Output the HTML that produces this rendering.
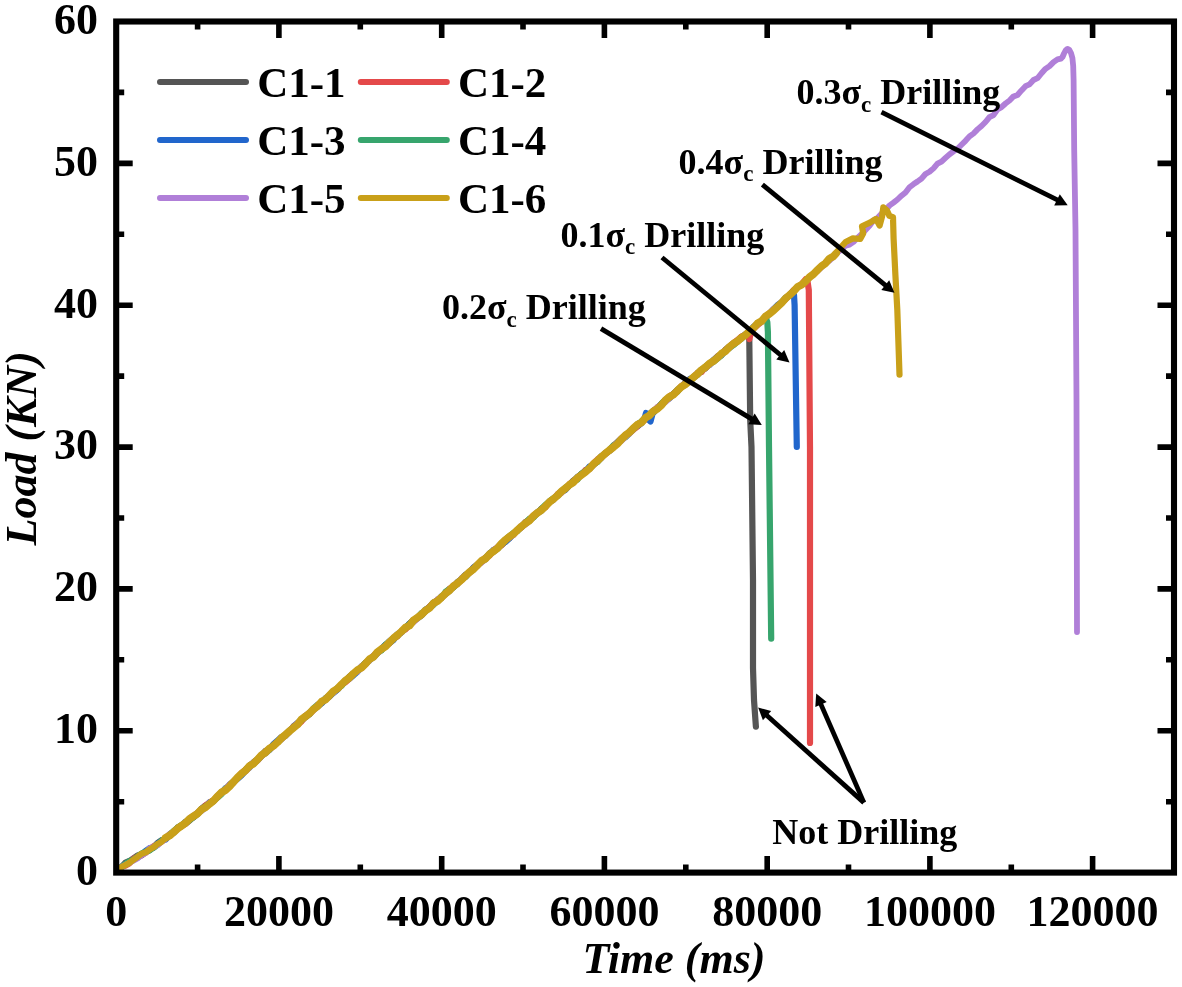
<!DOCTYPE html>
<html lang="en"><head><meta charset="utf-8"><title>Load-Time curves</title>
<style>html,body{margin:0;padding:0;background:#fff}svg{display:block;filter:blur(0.45px)}</style></head>
<body>
<svg width="1182" height="987" viewBox="0 0 1182 987">
<rect width="1182" height="987" fill="#fff"/>
<g fill="none" stroke-width="6.2" stroke-linejoin="round" stroke-linecap="round">
<path stroke="#555555" d="M117.5 870.5 L121.5 867.0 L125.5 862.6 L129.5 861.0 L133.5 858.3 L137.5 855.5 L141.5 854.6 L145.5 852.0 L149.5 849.8 L153.5 847.6 L157.5 843.1 L161.5 840.2 L165.5 839.2 L169.5 835.0 L173.5 832.7 L177.5 827.6 L181.5 825.6 L185.5 823.2 L189.5 818.7 L193.5 817.4 L197.5 814.1 L201.5 808.7 L205.5 805.5 L209.5 803.7 L213.5 801.4 L217.5 796.3 L221.5 792.3 L225.5 789.3 L229.5 784.7 L233.5 781.4 L237.5 778.0 L241.5 774.3 L245.5 769.7 L249.5 765.8 L253.5 762.2 L257.5 759.2 L261.5 755.2 L265.5 751.0 L269.5 749.5 L273.5 745.2 L277.5 741.9 L281.5 737.1 L285.5 735.7 L289.5 731.8 L293.5 726.3 L297.5 723.3 L301.5 720.7 L305.5 717.2 L309.5 714.2 L313.5 709.3 L317.5 706.9 L321.5 702.9 L325.5 698.4 L329.5 695.6 L333.5 692.8 L337.5 689.2 L341.5 684.8 L345.5 681.4 L349.5 676.4 L353.5 673.4 L357.5 671.3 L361.5 666.8 L365.5 662.6 L369.5 660.1 L373.5 656.9 L377.5 653.3 L381.5 649.0 L385.5 645.6 L389.5 642.2 L393.5 639.4 L397.5 635.2 L401.5 631.4 L405.5 628.2 L409.5 623.5 L413.5 620.0 L417.5 618.2 L421.5 615.4 L425.5 610.9 L429.5 606.9 L433.5 602.8 L437.5 600.2 L441.5 597.9 L445.5 593.9 L449.5 589.8 L453.5 587.1 L457.5 582.0 L461.5 579.2 L465.5 576.9 L469.5 572.4 L473.5 568.6 L477.5 564.6 L481.5 561.8 L485.5 559.4 L489.5 553.4 L493.5 551.9 L497.5 548.5 L501.5 545.2 L505.5 541.3 L509.5 538.1 L513.5 533.8 L517.5 530.5 L521.5 526.6 L525.5 522.2 L529.5 520.8 L533.5 516.6 L537.5 512.1 L541.5 509.5 L545.5 505.9 L549.5 502.1 L553.5 498.6 L557.5 495.6 L561.5 492.4 L565.5 488.9 L569.5 485.0 L573.5 480.4 L577.5 477.5 L581.5 473.8 L585.5 471.4 L589.5 468.6 L593.5 464.9 L597.5 461.4 L601.5 457.9 L605.5 453.0 L609.5 451.0 L613.5 447.0 L617.5 442.0 L621.5 438.3 L625.5 434.8 L629.5 433.2 L633.5 428.4 L637.5 424.5 L641.5 422.3 L645.5 418.1 L649.5 413.8 L653.5 410.6 L657.5 408.0 L661.5 403.6 L665.5 400.3 L669.5 397.9 L673.5 393.8 L677.5 389.9 L681.5 386.8 L685.5 382.4 L689.5 380.2 L693.5 377.0 L697.5 373.2 L701.5 369.7 L705.5 368.5 L709.5 364.2 L713.5 360.1 L717.5 357.8 L721.5 355.1 L725.5 349.7 L729.5 346.4 L733.5 343.4 L737.5 341.6 L741.5 336.8 L745.5 334.9 L748.5 331.9 L749.3 340.0 L750.2 420.0 L751.5 447.0 L753.0 580.0 L753.0 668.0 L754.0 700.0 L755.9 726.6"/>
<path stroke="#e4494a" d="M117.5 870.5 L121.5 867.0 L125.5 865.6 L129.5 863.3 L133.5 858.7 L137.5 856.3 L141.5 855.6 L145.5 852.7 L149.5 849.9 L153.5 846.3 L157.5 844.4 L161.5 841.7 L165.5 838.5 L169.5 834.3 L173.5 831.8 L177.5 828.6 L181.5 826.3 L185.5 823.9 L189.5 820.6 L193.5 816.4 L197.5 812.9 L201.5 809.3 L205.5 805.5 L209.5 802.4 L213.5 800.1 L217.5 796.2 L221.5 792.8 L225.5 790.5 L229.5 786.0 L233.5 782.2 L237.5 777.5 L241.5 773.0 L245.5 769.9 L249.5 765.5 L253.5 762.9 L257.5 760.6 L261.5 756.2 L265.5 751.4 L269.5 749.7 L273.5 745.9 L277.5 742.1 L281.5 739.0 L285.5 735.1 L289.5 731.6 L293.5 726.9 L297.5 725.0 L301.5 721.4 L305.5 715.7 L309.5 713.7 L313.5 710.1 L317.5 705.9 L321.5 702.5 L325.5 698.9 L329.5 696.5 L333.5 691.8 L337.5 689.1 L341.5 684.4 L345.5 682.2 L349.5 678.7 L353.5 674.0 L357.5 670.7 L361.5 668.1 L365.5 664.1 L369.5 659.9 L373.5 655.7 L377.5 652.4 L381.5 649.8 L385.5 644.9 L389.5 643.3 L393.5 638.1 L397.5 636.3 L401.5 631.2 L405.5 629.4 L409.5 625.2 L413.5 621.2 L417.5 617.7 L421.5 614.6 L425.5 610.9 L429.5 606.7 L433.5 602.9 L437.5 600.2 L441.5 597.8 L445.5 593.5 L449.5 588.6 L453.5 587.0 L457.5 583.3 L461.5 580.2 L465.5 574.9 L469.5 572.8 L473.5 567.5 L477.5 565.6 L481.5 561.1 L485.5 557.5 L489.5 555.7 L493.5 550.2 L497.5 547.7 L501.5 545.1 L505.5 540.1 L509.5 536.5 L513.5 534.8 L517.5 530.1 L521.5 527.4 L525.5 522.1 L529.5 519.5 L533.5 515.5 L537.5 513.4 L541.5 508.4 L545.5 507.2 L549.5 501.3 L553.5 499.6 L557.5 494.3 L561.5 491.4 L565.5 489.4 L569.5 484.2 L573.5 480.8 L577.5 478.7 L581.5 474.4 L585.5 470.0 L589.5 468.9 L593.5 463.2 L597.5 459.4 L601.5 456.7 L605.5 453.9 L609.5 450.7 L613.5 445.6 L617.5 442.6 L621.5 438.3 L625.5 435.9 L629.5 433.2 L633.5 429.6 L637.5 426.5 L641.5 422.7 L645.5 419.4 L649.5 415.5 L653.5 411.4 L657.5 407.2 L661.5 404.8 L665.5 400.4 L669.5 396.4 L673.5 393.8 L677.5 391.3 L681.5 385.9 L685.5 383.9 L689.5 380.2 L693.5 377.3 L697.5 373.1 L701.5 372.0 L705.5 366.8 L709.5 364.4 L713.5 360.6 L717.5 356.3 L721.5 354.4 L725.5 350.0 L729.5 346.5 L733.5 343.1 L737.5 340.1 L741.5 336.6 L745.5 334.7 L747.5 333.5 L749.4 339.0 L751.3 331.0 L753.5 328.8 L757.5 325.2 L761.5 321.9 L765.5 316.5 L769.5 313.4 L773.5 309.2 L777.5 306.3 L781.5 302.6 L785.5 299.3 L789.5 295.3 L793.5 290.3 L797.5 287.3 L801.5 284.2 L805.5 279.4 L806.0 280.3 L807.6 282.0 L808.8 290.0 L810.0 447.0 L810.0 743.0"/>
<path stroke="#2166cc" d="M117.5 870.5 L121.5 867.0 L125.5 863.8 L129.5 862.2 L133.5 859.5 L137.5 857.6 L141.5 855.0 L145.5 851.0 L149.5 848.2 L153.5 847.7 L157.5 843.5 L161.5 840.8 L165.5 839.6 L169.5 835.1 L173.5 832.9 L177.5 828.8 L181.5 826.1 L185.5 821.7 L189.5 819.8 L193.5 817.2 L197.5 813.1 L201.5 810.5 L205.5 807.2 L209.5 802.4 L213.5 800.9 L217.5 796.9 L221.5 792.6 L225.5 788.3 L229.5 786.9 L233.5 782.0 L237.5 778.8 L241.5 775.3 L245.5 770.9 L249.5 767.6 L253.5 762.6 L257.5 760.1 L261.5 755.6 L265.5 753.3 L269.5 749.6 L273.5 744.0 L277.5 740.6 L281.5 737.2 L285.5 735.6 L289.5 730.7 L293.5 727.6 L297.5 723.2 L301.5 720.2 L305.5 716.3 L309.5 712.7 L313.5 709.8 L317.5 706.2 L321.5 703.5 L325.5 699.4 L329.5 696.5 L333.5 692.8 L337.5 689.6 L341.5 685.2 L345.5 680.3 L349.5 678.6 L353.5 675.3 L357.5 671.6 L361.5 667.2 L365.5 664.0 L369.5 659.2 L373.5 657.3 L377.5 653.0 L381.5 648.7 L385.5 644.6 L389.5 643.1 L393.5 640.0 L397.5 634.1 L401.5 632.5 L405.5 628.0 L409.5 623.8 L413.5 620.7 L417.5 618.4 L421.5 615.2 L425.5 609.5 L429.5 607.5 L433.5 602.5 L437.5 600.8 L441.5 596.2 L445.5 594.2 L449.5 590.9 L453.5 586.2 L457.5 584.0 L461.5 578.7 L465.5 574.6 L469.5 572.4 L473.5 567.5 L477.5 564.4 L481.5 561.4 L485.5 558.5 L489.5 553.8 L493.5 550.0 L497.5 548.6 L501.5 543.7 L505.5 541.9 L509.5 538.3 L513.5 533.5 L517.5 530.2 L521.5 526.9 L525.5 523.7 L529.5 520.1 L533.5 516.6 L537.5 513.2 L541.5 510.6 L545.5 506.0 L549.5 502.3 L553.5 499.6 L557.5 494.9 L561.5 491.6 L565.5 489.8 L569.5 485.2 L573.5 481.8 L577.5 476.9 L581.5 474.5 L585.5 471.4 L589.5 466.4 L593.5 464.4 L597.5 461.0 L601.5 456.0 L605.5 453.9 L609.5 450.0 L613.5 447.0 L617.5 442.7 L621.5 440.1 L625.5 436.7 L629.5 431.3 L633.5 427.9 L637.5 426.0 L641.5 423.2 L644.5 418.5 L646.0 413.0 L648.0 419.0 L650.5 421.5 L652.5 414.0 L655.0 411.0 L657.5 407.5 L661.5 404.1 L665.5 400.4 L669.5 397.1 L673.5 394.1 L677.5 389.9 L681.5 386.6 L685.5 384.4 L689.5 379.2 L693.5 377.4 L697.5 374.6 L701.5 370.3 L705.5 366.7 L709.5 364.9 L713.5 360.2 L717.5 356.7 L721.5 354.1 L725.5 351.4 L729.5 346.6 L733.5 343.8 L737.5 340.6 L741.5 338.6 L745.5 334.2 L749.5 332.0 L753.5 326.7 L757.5 323.7 L761.5 321.0 L765.5 318.2 L769.5 313.5 L773.5 309.1 L777.5 305.1 L781.5 302.4 L785.5 297.7 L789.5 295.5 L792.5 291.9 L794.0 295.0 L794.6 305.0 L796.8 447.0"/>
<path stroke="#37a56d" d="M117.5 870.5 L121.5 867.0 L125.5 863.8 L129.5 861.1 L133.5 859.6 L137.5 856.5 L141.5 853.6 L145.5 851.8 L149.5 850.5 L153.5 847.6 L157.5 844.9 L161.5 840.7 L165.5 838.4 L169.5 834.6 L173.5 831.2 L177.5 827.8 L181.5 825.0 L185.5 823.7 L189.5 820.3 L193.5 817.0 L197.5 813.9 L201.5 809.1 L205.5 806.3 L209.5 803.9 L213.5 800.8 L217.5 797.6 L221.5 794.1 L225.5 788.4 L229.5 786.2 L233.5 782.5 L237.5 778.2 L241.5 773.4 L245.5 770.3 L249.5 765.4 L253.5 764.0 L257.5 760.3 L261.5 755.9 L265.5 751.7 L269.5 749.7 L273.5 745.3 L277.5 742.5 L281.5 738.9 L285.5 734.4 L289.5 730.6 L293.5 727.5 L297.5 723.5 L301.5 719.3 L305.5 716.1 L309.5 713.9 L313.5 708.4 L317.5 704.8 L321.5 702.8 L325.5 698.3 L329.5 695.5 L333.5 691.7 L337.5 687.9 L341.5 686.0 L345.5 680.4 L349.5 677.4 L353.5 673.3 L357.5 670.9 L361.5 666.4 L365.5 663.1 L369.5 660.6 L373.5 655.9 L377.5 653.0 L381.5 650.4 L385.5 644.7 L389.5 641.1 L393.5 638.0 L397.5 635.9 L401.5 632.0 L405.5 627.5 L409.5 624.2 L413.5 620.3 L417.5 617.6 L421.5 613.0 L425.5 611.2 L429.5 608.2 L433.5 604.9 L437.5 600.8 L441.5 597.9 L445.5 591.9 L449.5 589.1 L453.5 587.4 L457.5 583.4 L461.5 579.0 L465.5 576.8 L469.5 572.5 L473.5 569.5 L477.5 564.7 L481.5 560.9 L485.5 558.0 L489.5 553.7 L493.5 550.9 L497.5 548.9 L501.5 543.8 L505.5 539.4 L509.5 536.1 L513.5 532.9 L517.5 531.0 L521.5 526.5 L525.5 522.8 L529.5 518.8 L533.5 517.6 L537.5 512.7 L541.5 508.7 L545.5 504.8 L549.5 501.3 L553.5 498.2 L557.5 496.0 L561.5 491.2 L565.5 487.4 L569.5 485.1 L573.5 481.0 L577.5 479.5 L581.5 473.7 L585.5 471.2 L589.5 468.4 L593.5 463.9 L597.5 461.9 L601.5 457.1 L605.5 452.9 L609.5 449.9 L613.5 445.4 L617.5 442.9 L621.5 438.9 L625.5 437.1 L629.5 433.4 L633.5 429.0 L637.5 424.3 L641.5 421.4 L645.5 417.8 L649.5 414.2 L653.5 410.8 L657.5 408.9 L661.5 403.5 L665.5 399.7 L669.5 398.5 L673.5 394.1 L677.5 391.6 L681.5 386.6 L685.5 384.7 L689.5 380.9 L693.5 378.0 L697.5 374.6 L701.5 370.7 L705.5 366.4 L709.5 363.4 L713.5 361.8 L717.5 358.6 L721.5 355.3 L725.5 350.5 L729.5 348.0 L733.5 345.1 L737.5 341.4 L741.5 338.5 L745.5 334.5 L749.5 331.5 L753.5 328.1 L757.5 323.5 L761.5 321.7 L765.5 317.2 L767.3 322.0 L767.9 332.0 L769.0 447.0 L771.2 638.7"/>
<path stroke="#b07fd8" stroke-width="5.8" d="M117.5 870.5 L121.5 867.0 L125.5 864.8 L129.5 862.7 L133.5 860.6 L137.5 858.5 L141.5 855.3 L145.5 853.2 L149.5 848.2 L153.5 846.7 L157.5 845.3 L161.5 841.8 L165.5 839.3 L169.5 834.2 L173.5 831.9 L177.5 828.2 L181.5 825.8 L185.5 822.8 L189.5 818.1 L193.5 815.5 L197.5 812.5 L201.5 811.0 L205.5 807.4 L209.5 802.7 L213.5 801.0 L217.5 795.7 L221.5 793.4 L225.5 788.5 L229.5 784.7 L233.5 783.1 L237.5 777.4 L241.5 773.5 L245.5 771.6 L249.5 767.5 L253.5 762.3 L257.5 760.5 L261.5 755.9 L265.5 752.7 L269.5 747.9 L273.5 746.2 L277.5 742.0 L281.5 739.2 L285.5 735.4 L289.5 730.3 L293.5 726.9 L297.5 722.9 L301.5 719.3 L305.5 715.5 L309.5 712.6 L313.5 709.8 L317.5 704.7 L321.5 702.9 L325.5 698.5 L329.5 694.9 L333.5 692.7 L337.5 688.2 L341.5 684.3 L345.5 681.1 L349.5 678.2 L353.5 673.0 L357.5 671.8 L361.5 665.8 L365.5 664.1 L369.5 660.8 L373.5 655.1 L377.5 653.6 L381.5 649.0 L385.5 646.0 L389.5 640.9 L393.5 637.5 L397.5 634.4 L401.5 632.9 L405.5 627.4 L409.5 625.4 L413.5 622.3 L417.5 618.8 L421.5 613.8 L425.5 610.3 L429.5 607.3 L433.5 604.4 L437.5 599.2 L441.5 597.3 L445.5 594.0 L449.5 590.6 L453.5 585.0 L457.5 583.8 L461.5 578.1 L465.5 575.3 L469.5 572.5 L473.5 569.8 L477.5 564.8 L481.5 562.8 L485.5 558.3 L489.5 554.2 L493.5 550.7 L497.5 546.8 L501.5 543.1 L505.5 539.8 L509.5 537.7 L513.5 535.1 L517.5 529.4 L521.5 525.6 L525.5 524.6 L529.5 520.0 L533.5 516.2 L537.5 512.2 L541.5 509.7 L545.5 506.8 L549.5 502.4 L553.5 498.8 L557.5 494.4 L561.5 493.2 L565.5 487.4 L569.5 485.1 L573.5 482.5 L577.5 477.2 L581.5 475.3 L585.5 472.3 L589.5 468.0 L593.5 464.9 L597.5 459.6 L601.5 456.9 L605.5 452.7 L609.5 451.0 L613.5 446.0 L617.5 442.9 L621.5 440.9 L625.5 437.0 L629.5 433.8 L633.5 428.9 L637.5 425.5 L641.5 422.6 L645.5 418.4 L649.5 414.4 L653.5 411.2 L657.5 407.0 L661.5 404.1 L665.5 402.2 L669.5 398.6 L673.5 394.2 L677.5 390.4 L681.5 386.5 L685.5 382.6 L689.5 379.9 L693.5 378.0 L697.5 375.0 L701.5 370.4 L705.5 368.2 L709.5 364.9 L713.5 361.3 L717.5 358.0 L721.5 354.9 L725.5 350.6 L729.5 348.1 L733.5 343.7 L737.5 341.0 L741.5 338.4 L745.5 334.9 L749.5 330.5 L753.5 328.8 L757.5 324.5 L761.5 320.9 L765.5 315.9 L769.5 313.7 L773.5 309.2 L777.5 306.5 L781.5 302.2 L785.5 299.3 L789.5 295.1 L793.5 291.7 L797.5 287.1 L801.5 284.5 L805.5 281.3 L809.5 278.1 L813.5 273.3 L817.5 271.0 L821.5 267.4 L825.5 263.4 L829.5 260.6 L833.5 256.9 L837.5 252.5 L841.5 249.6 L845.5 245.7 L849.5 244.6 L853.5 241.9 L857.5 237.8 L861.5 234.2 L865.5 230.0 L869.5 225.8 L873.5 220.2 L877.5 218.0 L881.5 213.6 L885.5 210.0 L889.5 205.5 L893.5 202.6 L897.5 199.5 L901.5 195.7 L905.5 192.5 L909.5 187.3 L913.5 184.2 L917.5 181.5 L921.5 178.6 L925.5 174.0 L929.5 171.8 L933.5 168.4 L937.5 163.7 L941.5 161.7 L945.5 157.9 L949.5 154.3 L953.5 151.4 L957.5 148.7 L961.5 144.7 L965.5 140.8 L969.5 136.4 L973.5 133.5 L977.5 129.4 L981.5 126.0 L985.5 122.0 L989.5 117.1 L993.5 115.1 L997.5 109.4 L1001.5 107.2 L1005.5 103.5 L1009.5 100.5 L1013.5 96.4 L1017.5 95.0 L1021.5 90.4 L1025.5 86.2 L1029.5 84.4 L1033.5 80.0 L1037.5 78.2 L1041.5 73.2 L1045.5 68.8 L1049.5 66.1 L1053.5 62.1 L1057.5 59.4 L1060.9 58.6 L1062.5 57.0 L1064.0 53.5 L1065.7 50.3 L1067.5 48.9 L1069.3 49.8 L1071.0 53.0 L1072.4 58.0 L1073.2 66.0 L1073.6 80.0 L1074.2 150.0 L1075.5 230.0 L1076.5 400.0 L1077.0 632.0"/>
<path stroke="#c9a019" d="M117.5 870.5 L121.5 867.0 L125.5 865.0 L129.5 862.7 L133.5 859.8 L137.5 856.9 L141.5 853.8 L145.5 852.4 L149.5 849.4 L153.5 847.3 L157.5 843.9 L161.5 841.9 L165.5 837.9 L169.5 835.7 L173.5 832.4 L177.5 828.7 L181.5 825.8 L185.5 822.9 L189.5 818.9 L193.5 816.3 L197.5 813.6 L201.5 809.5 L205.5 807.3 L209.5 803.9 L213.5 800.8 L217.5 796.4 L221.5 792.3 L225.5 790.1 L229.5 786.5 L233.5 782.0 L237.5 777.5 L241.5 773.7 L245.5 770.6 L249.5 766.1 L253.5 763.7 L257.5 759.5 L261.5 755.2 L265.5 752.5 L269.5 748.4 L273.5 745.9 L277.5 742.3 L281.5 738.0 L285.5 734.7 L289.5 731.2 L293.5 727.8 L297.5 724.6 L301.5 719.3 L305.5 716.4 L309.5 713.3 L313.5 709.2 L317.5 706.2 L321.5 701.7 L325.5 699.6 L329.5 695.4 L333.5 691.1 L337.5 688.6 L341.5 684.4 L345.5 680.6 L349.5 677.6 L353.5 673.5 L357.5 670.0 L361.5 667.7 L365.5 663.8 L369.5 659.1 L373.5 656.9 L377.5 652.0 L381.5 649.0 L385.5 646.5 L389.5 642.4 L393.5 638.3 L397.5 635.0 L401.5 631.5 L405.5 627.5 L409.5 625.6 L413.5 620.4 L417.5 617.5 L421.5 614.6 L425.5 610.5 L429.5 608.1 L433.5 603.2 L437.5 601.1 L441.5 597.4 L445.5 593.5 L449.5 590.4 L453.5 586.1 L457.5 583.3 L461.5 579.7 L465.5 575.7 L469.5 572.1 L473.5 569.1 L477.5 565.0 L481.5 560.9 L485.5 558.6 L489.5 554.3 L493.5 551.2 L497.5 548.2 L501.5 543.6 L505.5 539.9 L509.5 536.6 L513.5 533.9 L517.5 530.0 L521.5 526.4 L525.5 523.3 L529.5 520.6 L533.5 516.0 L537.5 512.8 L541.5 510.1 L545.5 506.2 L549.5 502.1 L553.5 499.0 L557.5 495.5 L561.5 491.4 L565.5 488.4 L569.5 484.8 L573.5 482.2 L577.5 477.9 L581.5 475.0 L585.5 472.0 L589.5 468.4 L593.5 463.9 L597.5 460.8 L601.5 456.8 L605.5 453.4 L609.5 450.1 L613.5 447.1 L617.5 443.9 L621.5 439.2 L625.5 435.2 L629.5 432.4 L633.5 428.2 L637.5 424.7 L641.5 422.5 L645.5 417.8 L649.5 415.4 L653.5 411.2 L657.5 408.7 L661.5 405.1 L665.5 400.1 L669.5 396.8 L673.5 394.7 L677.5 390.6 L681.5 386.8 L685.5 384.2 L689.5 381.0 L693.5 377.2 L697.5 374.0 L701.5 370.0 L705.5 367.2 L709.5 363.5 L713.5 361.1 L717.5 357.7 L721.5 353.6 L725.5 351.2 L729.5 346.9 L733.5 343.6 L737.5 341.3 L741.5 337.6 L745.5 335.1 L749.5 331.3 L753.5 328.0 L757.5 323.4 L761.5 321.2 L765.5 316.4 L769.5 313.8 L773.5 310.6 L777.5 306.8 L781.5 303.0 L785.5 298.4 L789.5 295.1 L793.5 291.5 L797.5 286.9 L801.5 284.9 L805.5 281.4 L809.5 277.1 L813.5 274.1 L817.5 270.0 L821.5 266.1 L825.5 263.3 L829.5 258.5 L833.5 256.3 L836.0 253.5 L837.1 251.5 L845.6 242.0 L852.9 238.4 L860.2 239.0 L863.2 233.5 L862.0 226.2 L869.9 222.6 L876.0 218.9 L879.6 225.6 L882.1 216.5 L883.3 207.4 L886.9 210.4 L889.4 215.9 L893.0 217.1 L893.6 238.6 L895.4 275.1 L897.3 309.7 L899.5 374.6"/>
<path stroke="#c9a019" stroke-width="7.6" d="M165.5 837.9 L169.5 835.7 L173.5 832.4 L177.5 828.7 L181.5 825.8 L185.5 822.9 L189.5 818.9 L193.5 816.3 L197.5 813.6 L201.5 809.5 L205.5 807.3 L209.5 803.9 L213.5 800.8 L217.5 796.4 L221.5 792.3 L225.5 790.1 L229.5 786.5 L233.5 782.0 L237.5 777.5 L241.5 773.7 L245.5 770.6 L249.5 766.1 L253.5 763.7 L257.5 759.5 L261.5 755.2 L265.5 752.5 L269.5 748.4 L273.5 745.9 L277.5 742.3 L281.5 738.0 L285.5 734.7 L289.5 731.2 L293.5 727.8 L297.5 724.6 L301.5 719.3 L305.5 716.4 L309.5 713.3 L313.5 709.2 L317.5 706.2 L321.5 701.7 L325.5 699.6 L329.5 695.4 L333.5 691.1 L337.5 688.6 L341.5 684.4 L345.5 680.6 L349.5 677.6 L353.5 673.5 L357.5 670.0 L361.5 667.7 L365.5 663.8 L369.5 659.1 L373.5 656.9 L377.5 652.0 L381.5 649.0 L385.5 646.5 L389.5 642.4 L393.5 638.3 L397.5 635.0 L401.5 631.5 L405.5 627.5 L409.5 625.6 L413.5 620.4 L417.5 617.5 L421.5 614.6 L425.5 610.5 L429.5 608.1 L433.5 603.2 L437.5 601.1 L441.5 597.4 L445.5 593.5 L449.5 590.4 L453.5 586.1 L457.5 583.3 L461.5 579.7 L465.5 575.7 L469.5 572.1 L473.5 569.1 L477.5 565.0 L481.5 560.9 L485.5 558.6 L489.5 554.3 L493.5 551.2 L497.5 548.2 L501.5 543.6 L505.5 539.9 L509.5 536.6 L513.5 533.9 L517.5 530.0 L521.5 526.4 L525.5 523.3 L529.5 520.6 L533.5 516.0 L537.5 512.8 L541.5 510.1 L545.5 506.2 L549.5 502.1 L553.5 499.0 L557.5 495.5 L561.5 491.4 L565.5 488.4 L569.5 484.8 L573.5 482.2 L577.5 477.9 L581.5 475.0 L585.5 472.0 L589.5 468.4 L593.5 463.9 L597.5 460.8 L601.5 456.8 L605.5 453.4 L609.5 450.1 L613.5 447.1 L617.5 443.9 L621.5 439.2 L625.5 435.2 L629.5 432.4 L633.5 428.2 L637.5 424.7 L641.5 422.5 L645.5 417.8 L649.5 415.4 L653.5 411.2 L657.5 408.7 L661.5 405.1 L665.5 400.1 L669.5 396.8 L673.5 394.7 L677.5 390.6 L681.5 386.8 L685.5 384.2 L689.5 381.0 L693.5 377.2 L697.5 374.0 L701.5 370.0 L705.5 367.2 L709.5 363.5 L713.5 361.1 L717.5 357.7 L721.5 353.6 L725.5 351.2 L729.5 346.9 L733.5 343.6 L737.5 341.3 L741.5 337.6 L745.5 335.1 L749.5 331.3 L753.5 328.0 L757.5 323.4 L761.5 321.2 L765.5 316.4 L769.5 313.8 L773.5 310.6 L777.5 306.8 L781.5 303.0 L785.5 298.4 L789.5 295.1 L793.5 291.5 L797.5 286.9 L801.5 284.9 L805.5 281.4 L809.5 277.1 L813.5 274.1 L817.5 270.0 L821.5 266.1 L825.5 263.3 L829.5 258.5 L833.5 256.3 L836.0 253.5"/>
</g>
<rect x="116.2" y="21.5" width="1057.8" height="851.1" fill="none" stroke="#000" stroke-width="6.1"/>
<path d="M197.6 872.6 v-8.0 M197.6 21.5 v8.0 M278.9 872.6 v-16.5 M278.9 21.5 v16.5 M360.3 872.6 v-8.0 M360.3 21.5 v8.0 M441.7 872.6 v-16.5 M441.7 21.5 v16.5 M523.0 872.6 v-8.0 M523.0 21.5 v8.0 M604.4 872.6 v-16.5 M604.4 21.5 v16.5 M685.8 872.6 v-8.0 M685.8 21.5 v8.0 M767.2 872.6 v-16.5 M767.2 21.5 v16.5 M848.5 872.6 v-8.0 M848.5 21.5 v8.0 M929.9 872.6 v-16.5 M929.9 21.5 v16.5 M1011.3 872.6 v-8.0 M1011.3 21.5 v8.0 M1092.6 872.6 v-16.5 M1092.6 21.5 v16.5 M116.2 801.7 h8.0 M1174.0 801.7 h-8.0 M116.2 730.8 h16.5 M1174.0 730.8 h-16.5 M116.2 659.8 h8.0 M1174.0 659.8 h-8.0 M116.2 588.9 h16.5 M1174.0 588.9 h-16.5 M116.2 518.0 h8.0 M1174.0 518.0 h-8.0 M116.2 447.1 h16.5 M1174.0 447.1 h-16.5 M116.2 376.1 h8.0 M1174.0 376.1 h-8.0 M116.2 305.2 h16.5 M1174.0 305.2 h-16.5 M116.2 234.3 h8.0 M1174.0 234.3 h-8.0 M116.2 163.4 h16.5 M1174.0 163.4 h-16.5 M116.2 92.4 h8.0 M1174.0 92.4 h-8.0" stroke="#000" stroke-width="5.6" fill="none"/>
<g font-family="'Liberation Serif','Times New Roman',serif" font-weight="bold" font-size="44" fill="#000">
<text x="116.2" y="925.5" text-anchor="middle">0</text>
<text x="278.9" y="925.5" text-anchor="middle">20000</text>
<text x="441.7" y="925.5" text-anchor="middle">40000</text>
<text x="604.4" y="925.5" text-anchor="middle">60000</text>
<text x="767.2" y="925.5" text-anchor="middle">80000</text>
<text x="929.9" y="925.5" text-anchor="middle">100000</text>
<text x="1092.6" y="925.5" text-anchor="middle">120000</text>
<text x="98" y="884.9" text-anchor="end">0</text>
<text x="98" y="743.0" text-anchor="end">10</text>
<text x="98" y="601.2" text-anchor="end">20</text>
<text x="98" y="459.4" text-anchor="end">30</text>
<text x="98" y="317.5" text-anchor="end">40</text>
<text x="98" y="175.7" text-anchor="end">50</text>
<text x="98" y="33.8" text-anchor="end">60</text>
</g>
<text x="674" y="973" text-anchor="middle" font-family="'Liberation Serif','Times New Roman',serif" font-weight="bold" font-style="italic" font-size="44">Time (ms)</text>
<text transform="translate(36 448.3) rotate(-90)" text-anchor="middle" font-family="'Liberation Serif','Times New Roman',serif" font-weight="bold" font-style="italic" font-size="44">Load (KN)</text>
<g font-family="'Liberation Serif','Times New Roman',serif" font-weight="bold" font-size="43" fill="#000">
<path d="M160.0 82 h86" stroke="#555555" stroke-width="6" stroke-linecap="round" fill="none"/>
<text x="257.2" y="96.9">C1-1</text>
<path d="M360.8 82 h86" stroke="#e4494a" stroke-width="6" stroke-linecap="round" fill="none"/>
<text x="458.0" y="96.9">C1-2</text>
<path d="M160.0 140 h86" stroke="#2166cc" stroke-width="6" stroke-linecap="round" fill="none"/>
<text x="257.2" y="154.9">C1-3</text>
<path d="M360.8 140 h86" stroke="#37a56d" stroke-width="6" stroke-linecap="round" fill="none"/>
<text x="458.0" y="154.9">C1-4</text>
<path d="M160.0 198 h86" stroke="#b07fd8" stroke-width="6" stroke-linecap="round" fill="none"/>
<text x="257.2" y="212.9">C1-5</text>
<path d="M360.8 198 h86" stroke="#c9a019" stroke-width="6" stroke-linecap="round" fill="none"/>
<text x="458.0" y="212.9">C1-6</text>
</g>
<text x="560.4" y="246.7" font-family="'Liberation Serif','Times New Roman',serif" font-weight="bold" font-size="36" fill="#000">0.1σ<tspan font-size="23" dy="7.5">c</tspan><tspan dy="-7.5"> Drilling</tspan></text>
<path d="M662.0 257.5 L781.8 356.0" stroke="#000" stroke-width="4.8" fill="none"/><path d="M789.5 362.4 L776.3 359.6 L784.2 349.9 Z" fill="#000"/>
<text x="442" y="319.1" font-family="'Liberation Serif','Times New Roman',serif" font-weight="bold" font-size="36" fill="#000">0.2σ<tspan font-size="23" dy="7.5">c</tspan><tspan dy="-7.5"> Drilling</tspan></text>
<path d="M601.0 328.6 L753.2 419.9" stroke="#000" stroke-width="4.8" fill="none"/><path d="M761.8 425.0 L748.3 424.2 L754.7 413.5 Z" fill="#000"/>
<text x="796.5" y="104.3" font-family="'Liberation Serif','Times New Roman',serif" font-weight="bold" font-size="36" fill="#000">0.3σ<tspan font-size="23" dy="7.5">c</tspan><tspan dy="-7.5"> Drilling</tspan></text>
<path d="M881.5 112.1 L1058.8 200.7" stroke="#000" stroke-width="4.8" fill="none"/><path d="M1067.7 205.2 L1054.2 205.4 L1059.8 194.2 Z" fill="#000"/>
<text x="678.6" y="173.6" font-family="'Liberation Serif','Times New Roman',serif" font-weight="bold" font-size="36" fill="#000">0.4σ<tspan font-size="23" dy="7.5">c</tspan><tspan dy="-7.5"> Drilling</tspan></text>
<path d="M762.4 184.7 L886.8 286.4" stroke="#000" stroke-width="4.8" fill="none"/><path d="M894.5 292.7 L881.3 289.9 L889.2 280.3 Z" fill="#000"/>
<text x="772.3" y="843.7" font-family="'Liberation Serif','Times New Roman',serif" font-weight="bold" font-size="36" fill="#000">Not Drilling</text>
<path d="M863.9 802.6 L765.5 714.3" stroke="#000" stroke-width="4.8" fill="none"/><path d="M758.1 707.6 L771.2 711.0 L762.9 720.3 Z" fill="#000"/>
<path d="M863.9 802.6 L820.2 702.6" stroke="#000" stroke-width="4.8" fill="none"/><path d="M816.2 693.4 L826.7 701.9 L815.3 706.9 Z" fill="#000"/>
</svg>
</body></html>
